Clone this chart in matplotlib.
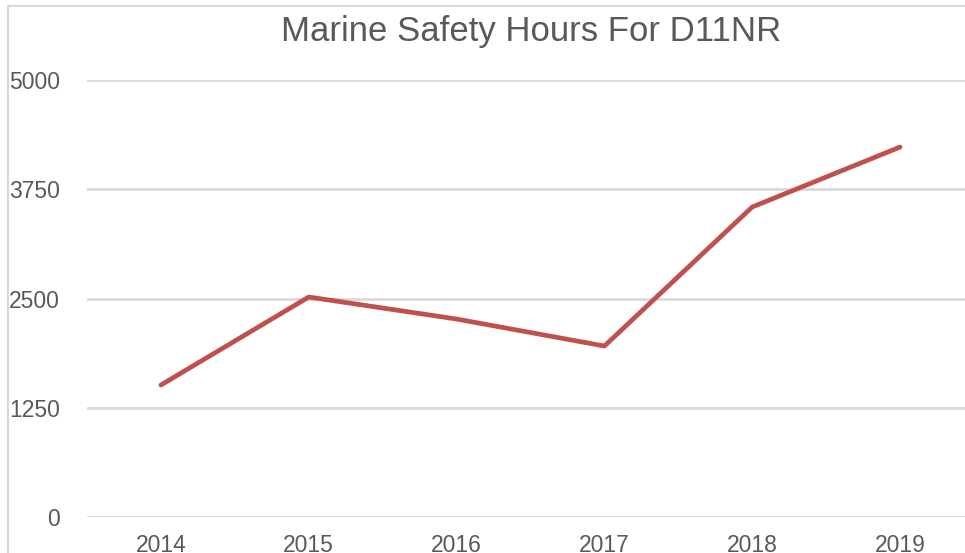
import matplotlib
matplotlib.use("Agg")
import matplotlib.pyplot as plt
from matplotlib.lines import Line2D

years = ['2014', '2015', '2016', '2017', '2018', '2019']
hours = [1510, 2517, 2265, 1956, 3547, 4233]
yticks = [0, 1250, 2500, 3750, 5000]

plt.rcParams['font.family'] = ['Liberation Sans', 'DejaVu Sans']

fig = plt.figure(figsize=(9.65, 5.53), dpi=100)
ax = fig.add_axes([87/965, 1-517/553, (974-87)/965, (517-80)/553])

x = range(len(years))
ax.plot(x, hours, color='#C0504D', linewidth=3.4, solid_capstyle='round', solid_joinstyle='round', zorder=3)

ax.set_xlim(-0.5, len(years)-0.5)
ax.set_ylim(0, 5000)
ax.set_yticks(yticks)
ax.set_yticklabels([str(v) for v in yticks])
ax.set_xticks(list(x))
ax.set_xticklabels(years)
ax.grid(axis='y', color='#D9D9D9', linewidth=2)
ax.set_axisbelow(True)
for s in ax.spines.values():
    s.set_visible(False)
ax.tick_params(axis='both', length=0, labelsize=16.5, colors='#595959')
ax.tick_params(axis='y', pad=19.5)
ax.tick_params(axis='x', pad=12)

fig.text(531/965, 1-31/553, 'Marine Safety Hours For D11NR', ha='center', va='center',
         fontsize=25, color='#595959')

# outer chart frame (left and top edges visible)
fig.add_artist(Line2D([8/965, 8/965], [0, 1-6/553], transform=fig.transFigure, color='#D9D9D9', linewidth=1.5))
fig.add_artist(Line2D([8/965, 1], [1-6/553, 1-6/553], transform=fig.transFigure, color='#D9D9D9', linewidth=1.5))

fig.savefig('out.png', dpi=100)
